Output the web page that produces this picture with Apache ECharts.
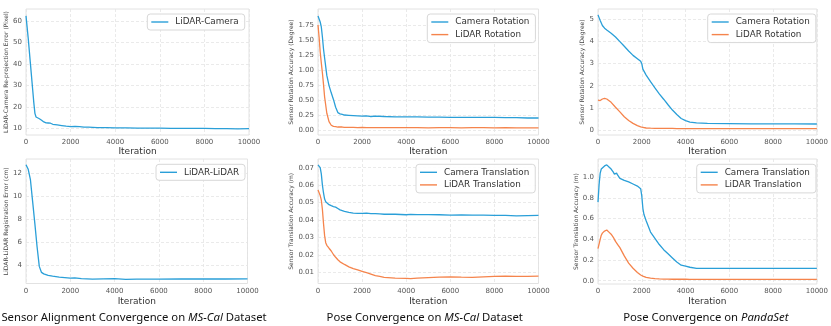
<!DOCTYPE html>
<html><head><meta charset="utf-8">
<script src="https://cdn.jsdelivr.net/npm/echarts@6/dist/echarts.min.js"></script>
<style>html,body{margin:0;padding:0;background:#fff}#c{width:831px;height:326px}</style>
</head><body><div id="c"></div>
<script>
// ---------- data ----------
const it1 = [0,100,200,300,350,400,450,500,600,700,800,900,1000,1100,1200,1400,1600,1800,2000,2200,2400,2600,2800,3000,3200,3600,4000,4500,5000,5500,6000,6500,7000,7500,8000,8500,9000,9500,10000];
const lidarCamera = [62.5,52,40,28,22,17,15.3,14.8,14.5,13.8,13.0,12.6,12.5,12.4,11.9,11.6,11.3,11.0,10.8,10.9,10.8,10.6,10.6,10.5,10.3,10.3,10.2,10.2,10.1,10.1,10.1,10.0,10.0,10.0,10.0,9.9,9.9,9.8,9.9];

const it2 = [0,50,100,150,200,250,300,400,500,600,700,800,900,1000,1100,1200,1400,1600,1800,2000,2200,2400,2600,3000,3500,4000,4500,5000,5500,6000,6500,7000,7500,8000,8500,9000,9500,10000];
const camRotMS = [1.90,1.87,1.80,1.72,1.55,1.35,1.20,0.91,0.74,0.62,0.51,0.38,0.29,0.27,0.26,0.25,0.245,0.24,0.235,0.23,0.235,0.225,0.23,0.225,0.22,0.22,0.22,0.215,0.215,0.21,0.21,0.21,0.21,0.21,0.205,0.205,0.20,0.20];
const lidRotMS = [1.75,1.55,1.30,1.12,0.95,0.76,0.55,0.28,0.14,0.08,0.06,0.055,0.05,0.05,0.05,0.045,0.045,0.045,0.04,0.045,0.04,0.04,0.04,0.04,0.04,0.04,0.04,0.035,0.04,0.04,0.035,0.04,0.04,0.035,0.04,0.035,0.035,0.035];

const it3 = [0,100,200,300,400,600,800,1000,1200,1400,1600,1800,1950,2000,2050,2200,2400,2600,2800,3000,3200,3400,3600,3800,4000,4200,4500,5000,6000,7000,8000,9000,10000];
const camRotPS = [5.2,4.95,4.72,4.6,4.52,4.37,4.2,3.99,3.78,3.57,3.37,3.22,3.1,3.0,2.75,2.48,2.18,1.9,1.63,1.39,1.14,0.9,0.7,0.52,0.42,0.36,0.32,0.3,0.29,0.28,0.28,0.28,0.27];
const lidRotPS = [1.35,1.33,1.40,1.43,1.40,1.25,1.03,0.82,0.6,0.43,0.3,0.2,0.14,0.13,0.12,0.09,0.08,0.075,0.07,0.07,0.07,0.07,0.065,0.065,0.065,0.065,0.065,0.065,0.06,0.06,0.06,0.06,0.06];

const it4 = [0,100,200,300,400,500,600,700,800,1000,1200,1500,2000,2200,2500,3000,3500,4000,4500,5000,6000,7000,8000,9000,10000];
const lidarLidar = [12.7,12.3,11.4,9.5,7.6,5.6,3.9,3.38,3.25,3.12,3.05,2.97,2.88,2.9,2.84,2.8,2.82,2.84,2.78,2.79,2.8,2.81,2.82,2.81,2.82];

const it5 = [0,100,150,200,250,300,350,400,500,600,700,800,900,1000,1200,1400,1600,1800,2000,2200,2400,2600,2800,3000,3500,4000,4200,4500,5000,5500,6000,6500,7000,7500,8000,8500,9000,9500,10000];
const camTransMS = [0.0716,0.070,0.0665,0.060,0.0555,0.052,0.0505,0.0495,0.0488,0.0482,0.0477,0.0474,0.0466,0.0458,0.0449,0.0444,0.044,0.0438,0.0438,0.0439,0.0436,0.0437,0.0435,0.0433,0.0433,0.043,0.0432,0.0431,0.0431,0.043,0.0428,0.0429,0.0428,0.0428,0.0427,0.0426,0.0424,0.0425,0.0426];
const lidTransMS = [0.0572,0.054,0.0515,0.046,0.038,0.031,0.027,0.0255,0.0238,0.0222,0.0202,0.0186,0.0172,0.016,0.0145,0.0131,0.0121,0.0114,0.0105,0.0098,0.009,0.0081,0.0076,0.0071,0.0067,0.0065,0.0063,0.0066,0.0069,0.0072,0.0074,0.0072,0.0071,0.0074,0.0076,0.0078,0.0077,0.0077,0.0078];

const it6 = [0,50,100,150,200,300,400,500,600,700,750,800,850,900,1000,1200,1400,1600,1800,1950,2000,2050,2100,2200,2400,2600,2800,3000,3200,3400,3600,3800,4000,4200,4500,5000,6000,7000,8000,9000,10000];
const camTransPS = [0.76,0.93,1.04,1.08,1.09,1.11,1.12,1.10,1.08,1.05,1.03,1.03,1.04,1.02,0.99,0.97,0.955,0.935,0.915,0.89,0.82,0.70,0.64,0.58,0.47,0.41,0.35,0.30,0.26,0.22,0.18,0.15,0.14,0.13,0.12,0.12,0.12,0.12,0.12,0.12,0.12];
const lidTransPS = [0.31,0.32,0.40,0.44,0.46,0.48,0.49,0.47,0.45,0.42,0.40,0.38,0.365,0.35,0.32,0.24,0.17,0.12,0.08,0.055,0.05,0.045,0.04,0.032,0.024,0.02,0.017,0.015,0.015,0.014,0.014,0.014,0.014,0.013,0.013,0.013,0.013,0.012,0.012,0.012,0.012];

const xTicks = [0,2000,4000,6000,8000,10000];
const yTicks1 = [10,20,30,40,50,60];
const yTicks2 = [0,0.25,0.5,0.75,1.0,1.25,1.5,1.75];
const yTicks3 = [0,1,2,3,4,5];
const yTicks4 = [4,6,8,10,12];
const yTicks5 = [0.01,0.02,0.03,0.04,0.05,0.06,0.07];
const yTicks6 = [0,0.2,0.4,0.6,0.8,1.0];

// ---------- chart ----------
const BLUE = '#2a9fd8', ORANGE = '#f5844c';
const FONT = 'DejaVu Sans';
const chart = echarts.init(document.getElementById('c'), null, {renderer:'canvas'});

const grids = [
  {left:26, top:9, width:223, height:126},
  {left:318, top:9, width:220.5, height:126},
  {left:598, top:9, width:221, height:126},
  {left:26, top:159, width:221.5, height:124.5},
  {left:318, top:159, width:220.5, height:124.5},
  {left:598, top:159, width:221, height:125}
].map(g => Object.assign(g, {show:true, borderColor:'#e2e2e2', borderWidth:1, backgroundColor:'#fff'}));

const yCfg = [
  {min:6.9, max:65.7, ticks:yTicks1, dec:0, name:'LiDAR-Camera Re-projection Error (Pixel)', gap:16},
  {min:-0.083, max:2.017, ticks:yTicks2, dec:2, name:'Sensor Rotation Accuracy (Degree)', gap:23},
  {min:-0.226, max:5.465, ticks:yTicks3, dec:0, name:'Sensor Rotation Accuracy (Degree)', gap:11},
  {min:2.42, max:13.19, ticks:yTicks4, dec:0, name:'LiDAR-LiDAR Registration Error (cm)', gap:16},
  {min:0.00356, max:0.075, ticks:yTicks5, dec:2, name:'Sensor Translation Accuracy (m)', gap:24},
  {min:-0.032, max:1.177, ticks:yTicks6, dec:1, name:'Sensor Translation Accuracy (m)', gap:18}
];

const xAxes = grids.map((g,i) => ({
  type:'value', gridIndex:i, min:0, max:10000,
  name:'Iteration', nameLocation:'middle', nameGap: i<3 ? 12.5 : 13.5,
  nameTextStyle:{fontFamily:FONT, fontSize:9, color:'#333'},
  axisLine:{show:false}, axisTick:{show:false, customValues:xTicks},
  axisLabel:{fontFamily:FONT, fontSize:7, color:'#555', margin:4, customValues:xTicks, formatter: v => String(v)},
  splitLine:{show:true, lineStyle:{color:'#e4e4e4', type:[3,2], width:0.8}}
}));

const yAxes = yCfg.map((c,i) => ({
  type:'value', gridIndex:i, min:c.min, max:c.max,
  name:c.name, nameLocation:'middle', nameRotate:90, nameGap:c.gap,
  nameTextStyle:{fontFamily:FONT, fontSize:6, color:'#444'},
  axisLine:{show:false},
  axisTick:{show:false, customValues:c.ticks},
  axisLabel:{fontFamily:FONT, fontSize:7, color:'#555', margin:4, customValues:c.ticks,
             formatter: v => Number(v).toFixed(c.dec)},
  splitLine:{show:true, lineStyle:{color:'#e4e4e4', type:[3,2], width:0.8}}
}));

function pairs(xs, ys){ return xs.map((x,k)=>[x, ys[k]]); }
function ser(name, i, xs, ys, color){
  return {type:'line', name, xAxisIndex:i, yAxisIndex:i, data:pairs(xs,ys),
    symbol:'none', smooth:false, lineStyle:{color, width:1.3}, itemStyle:{color}, z:3, animation:false};
}
const series = [
  ser('LiDAR-Camera',0,it1,lidarCamera,BLUE),
  ser('Camera Rotation',1,it2,camRotMS,BLUE),
  ser('LiDAR Rotation',1,it2,lidRotMS,ORANGE),
  ser('Camera Rotation ',2,it3,camRotPS,BLUE),
  ser('LiDAR Rotation ',2,it3,lidRotPS,ORANGE),
  ser('LiDAR-LiDAR',3,it4,lidarLidar,BLUE),
  ser('Camera Translation',4,it5,camTransMS,BLUE),
  ser('LiDAR Translation',4,it5,lidTransMS,ORANGE),
  ser('Camera Translation ',5,it6,camTransPS,BLUE),
  ser('LiDAR Translation ',5,it6,lidTransPS,ORANGE)
];

function leg(data, left, top){
  return {data, left, top, orient:'vertical', icon:'rect', itemWidth:17, itemHeight:1.4, itemGap:2.6,
    padding:[3,6,3,4], backgroundColor:'rgba(255,255,255,0.9)', borderColor:'#d8d8d8', borderWidth:1, borderRadius:3,
    textStyle:{fontFamily:FONT, fontSize:8.8, color:'#333', padding:[0,0,0,2], lineHeight:10}, selectedMode:false,
    formatter: n => n.trim()};
}
const legends = [
  leg(['LiDAR-Camera'],147.3,14),
  leg(['Camera Rotation','LiDAR Rotation'],427.3,14),
  leg(['Camera Rotation ','LiDAR Rotation '],707.7,14),
  leg(['LiDAR-LiDAR'],156,164.3),
  leg(['Camera Translation','LiDAR Translation'],416,164.3),
  leg(['Camera Translation ','LiDAR Translation '],696.7,164.3)
];

const capFont = 'Noto Sans';
function caption(x, parts){
  return {type:'text', x, y:318, style:{
    text: parts.map(p => p[1] ? '{i|'+p[0]+'}' : '{n|'+p[0]+'}').join(''),
    align:'center', verticalAlign:'middle',
    rich:{n:{fontFamily:capFont, fontSize:11.3, fill:'#111'}, i:{fontFamily:capFont, fontSize:11.3, fontStyle:'italic', fill:'#111'}}
  }};
}

chart.setOption({
  animation:false,
  backgroundColor:'#fff',
  grid:grids, xAxis:xAxes, yAxis:yAxes, series, legend:legends,
  graphic:[
    caption(134, [['Sensor Alignment Convergence on ',0],['MS-Cal',1],[' Dataset',0]]),
    caption(424.7, [['Pose Convergence on ',0],['MS-Cal',1],[' Dataset',0]]),
    caption(705.8, [['Pose Convergence on ',0],['PandaSet',1]])
  ]
});
</script></body></html>
